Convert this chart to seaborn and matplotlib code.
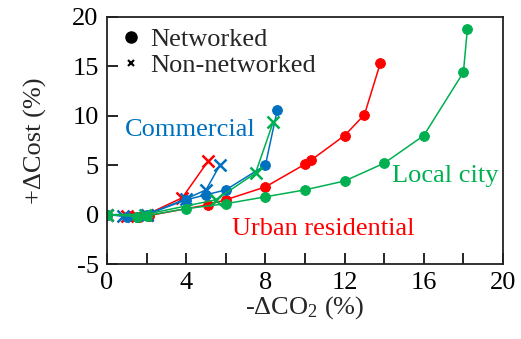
import pandas as pd
import seaborn as sns
import matplotlib.pyplot as plt
from matplotlib.lines import Line2D
from matplotlib.ticker import MultipleLocator

# values (x = -dCO2 %, y = +dCost %)
urban_net_x = [0, 1.2, 1.6, 2.1, 5.1, 6.0, 8.0, 10.0, 10.3, 12.0, 13.0, 13.8]
urban_net_y = [0, -0.1, -0.2, -0.1, 1.0, 1.5, 2.8, 5.1, 5.5, 8.0, 10.1, 15.3]
urban_non_x = [0, 1.0, 2.0, 3.8, 5.1]
urban_non_y = [0, -0.1, 0.0, 1.7, 5.4]

comm_net_x = [0, 1.0, 1.5, 2.0, 4.0, 5.0, 6.0, 8.0, 8.6]
comm_net_y = [0, -0.2, -0.2, 0.0, 1.5, 2.0, 2.5, 5.0, 10.6]
comm_non_x = [0, 0.8, 2.0, 4.0, 5.0, 5.7]
comm_non_y = [0, -0.1, 0.0, 1.6, 2.5, 5.0]

city_net_x = [0, 1.5, 2.0, 4.0, 6.0, 8.0, 10.0, 12.0, 14.0, 16.0, 18.0, 18.2]
city_net_y = [0, -0.2, -0.1, 0.6, 1.1, 1.8, 2.5, 3.4, 5.2, 8.0, 14.4, 18.8]
city_non_x = [0, 1.9, 5.5, 7.5, 8.4]
city_non_y = [0, 0.0, 1.5, 4.2, 9.4]

RED, BLUE, GREEN = '#FF0000', '#0070C0', '#00B050'

series = [
    (urban_net_x, urban_net_y, RED, 'o'),
    (urban_non_x, urban_non_y, RED, 'x'),
    (comm_net_x, comm_net_y, BLUE, 'o'),
    (comm_non_x, comm_non_y, BLUE, 'x'),
    (city_net_x, city_net_y, GREEN, 'o'),
    (city_non_x, city_non_y, GREEN, 'x'),
]

sns.set_style('ticks')
plt.rcParams['font.family'] = ['Liberation Serif', 'DejaVu Serif']
plt.rcParams['mathtext.fontset'] = 'custom'
plt.rcParams['mathtext.rm'] = 'Liberation Serif'
plt.rcParams['mathtext.it'] = 'Liberation Serif:italic'
plt.rcParams['axes.unicode_minus'] = False
plt.rcParams['font.size'] = 19

fig = plt.figure(figsize=(5.21, 3.39), dpi=100)
ax = fig.add_axes([0.2054, 0.2212, 0.7601, 0.7289])

for xs, ys, col, mk in series:
    df = pd.DataFrame({'x': xs, 'y': ys})
    if mk == 'o':
        sns.lineplot(data=df, x='x', y='y', sort=False, estimator=None, ax=ax,
                     color=col, lw=1.1, marker='o', markersize=7,
                     markeredgecolor=col, markerfacecolor=col)
    else:
        sns.lineplot(data=df, x='x', y='y', sort=False, estimator=None, ax=ax,
                     color=col, lw=1.1, marker='x', markersize=9,
                     markeredgewidth=1.8, markeredgecolor=col)

ax.set_xlim(0, 20)
ax.set_ylim(-5, 20)
ax.xaxis.set_major_locator(MultipleLocator(4))
ax.xaxis.set_minor_locator(MultipleLocator(2))
ax.yaxis.set_major_locator(MultipleLocator(5))
ax.tick_params(which='both', direction='in', length=8, width=1.2,
               labelsize=19, colors='black', pad=6)
for s in ax.spines.values():
    s.set_linewidth(1.3)
    s.set_color('#222222')
    s.set_visible(True)

ax.set_xlabel('-ΔCO$_2$ (%)', fontsize=19, labelpad=0)
ax.set_ylabel('+ΔCost (%)', fontsize=19, labelpad=18)

ax.text(0.9, 8.6, 'Commercial', color=BLUE, fontsize=19, va='center')
ax.text(14.4, 3.9, 'Local city', color=GREEN, fontsize=19, va='center')
ax.text(6.3, -1.5, 'Urban residential', color=RED, fontsize=19, va='center')

handles = [
    Line2D([], [], ls='none', marker='o', color='black', markersize=8),
    Line2D([], [], ls='none', marker='x', color='black', markersize=5,
           markeredgewidth=1.5),
]
ax.legend(handles, ['Networked', 'Non-networked'], loc='upper left',
          bbox_to_anchor=(0.008, 1.0), frameon=False, fontsize=19,
          handletextpad=0.3, borderaxespad=0.0, labelspacing=0.1,
          handlelength=0.8)

fig.savefig('out.png', dpi=100)
